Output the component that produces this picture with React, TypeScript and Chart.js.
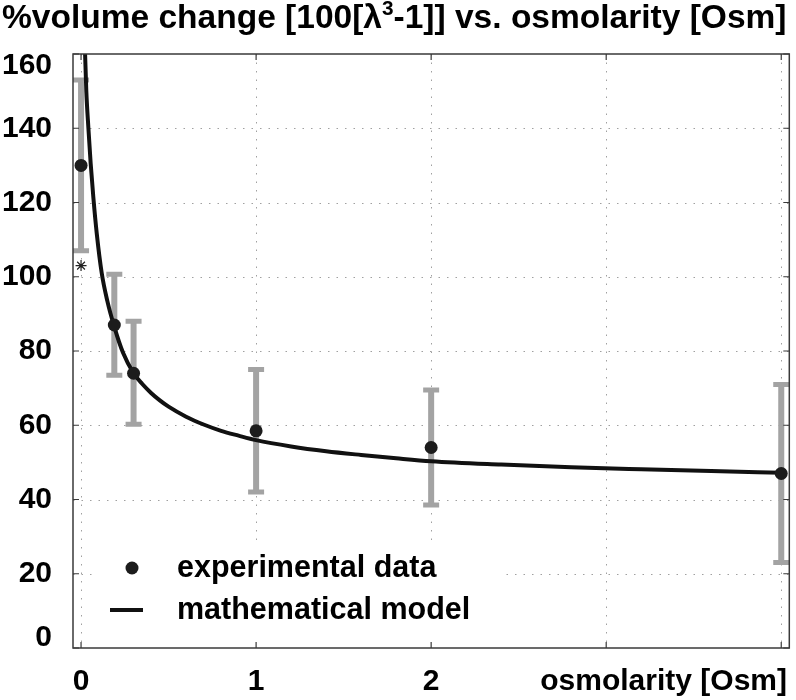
import React, { useEffect, useRef } from "react";
import { Chart, registerables } from "chart.js";

Chart.register(...registerables);

// ---- data ----
const expX = [0, 0.19, 0.3, 1, 2, 4];
const expY = [130, 87, 74, 58.5, 54, 47];
const errLow = [107, 73.5, 60.3, 42, 38.5, 23];
const errHigh = [153, 100.7, 88, 75, 69.5, 71];

const starX = [0];
const starY = [103];

const modelX = [0.021, 0.023, 0.03, 0.042, 0.055, 0.07, 0.09, 0.118, 0.15, 0.19, 0.24, 0.3, 0.35, 0.4, 0.45, 0.5, 0.6, 0.7, 0.8, 0.9, 1.0, 1.2, 1.4, 1.6, 1.8, 2.0, 2.4, 2.8, 3.2, 3.6, 4.0];
const modelY = [164, 160, 150, 140, 130.5, 121.5, 111.5, 101, 93.5, 86.5, 79.5, 74, 71.1, 68.7, 66.7, 65, 62.3, 60.2, 58.5, 57.2, 56, 54.3, 53, 52, 51.1, 50.3, 49.4, 48.7, 48.15, 47.65, 47.2];

const xTickValues = [0, 1, 2, 3, 4];
const xTickLabels = ["0", "1", "2", "", ""];
const yTickValues = [0, 20, 40, 60, 80, 100, 120, 140, 160];
const yTickLabels = ["0", "20", "40", "60", "80", "100", "120", "140", "160"];

const titleParts = ["%volume change [100[λ", "3", "-1]] vs. osmolarity [Osm]"];
const xAxisTitle = "osmolarity [Osm]";
const legendLabels = ["experimental data", "mathematical model"];

const FONT = '"Liberation Sans", Arial, Helvetica, sans-serif';

const decor = {
  id: "decor",
  beforeDatasetsDraw(chart: any) {
    const { ctx, chartArea: a, scales } = chart;
    const x = scales.x, y = scales.y;
    ctx.save();
    // dotted grid
    ctx.strokeStyle = "#a0a0a0";
    ctx.lineWidth = 1;
    ctx.setLineDash([1.5, 7]);
    xTickValues.forEach((v) => {
      const px = Math.round(x.getPixelForValue(v)) + 0.5;
      ctx.beginPath();
      ctx.moveTo(px, a.top);
      ctx.lineTo(px, a.bottom);
      ctx.stroke();
    });
    yTickValues.forEach((v) => {
      if (v <= 0 || v >= 160) return;
      const py = Math.round(y.getPixelForValue(v)) + 0.5;
      ctx.beginPath();
      ctx.moveTo(a.left, py);
      ctx.lineTo(a.right, py);
      ctx.stroke();
    });
    ctx.setLineDash([]);
    // legend background
    ctx.fillStyle = "#ffffff";
    ctx.fillRect(92, 542, 413, 100);
    // error bars
    ctx.beginPath();
    ctx.rect(a.left, a.top, a.right - a.left, a.bottom - a.top);
    ctx.clip();
    ctx.strokeStyle = "#a3a3a3";
    ctx.lineCap = "butt";
    expX.forEach((v, i) => {
      const px = x.getPixelForValue(v);
      const pl = y.getPixelForValue(errLow[i]);
      const ph = y.getPixelForValue(errHigh[i]);
      ctx.lineWidth = 6;
      ctx.beginPath();
      ctx.moveTo(px, pl);
      ctx.lineTo(px, ph);
      ctx.stroke();
      ctx.lineWidth = 5;
      ctx.beginPath();
      ctx.moveTo(px - 8, pl);
      ctx.lineTo(px + 8, pl);
      ctx.moveTo(px - 8, ph);
      ctx.lineTo(px + 8, ph);
      ctx.stroke();
    });
    ctx.restore();
  },
  afterDraw(chart: any) {
    const { ctx, chartArea: a, scales } = chart;
    const x = scales.x, y = scales.y;
    ctx.save();
    // frame
    ctx.strokeStyle = "#3a3a3a";
    ctx.lineWidth = 1.5;
    ctx.strokeRect(a.left, a.top, a.right - a.left, a.bottom - a.top);
    // inward ticks
    ctx.lineWidth = 1.2;
    const tl = 6;
    ctx.beginPath();
    xTickValues.forEach((v) => {
      const px = x.getPixelForValue(v);
      ctx.moveTo(px, a.bottom);
      ctx.lineTo(px, a.bottom - tl);
      ctx.moveTo(px, a.top);
      ctx.lineTo(px, a.top + tl);
    });
    yTickValues.forEach((v) => {
      const py = y.getPixelForValue(v);
      ctx.moveTo(a.left, py);
      ctx.lineTo(a.left + tl, py);
      ctx.moveTo(a.right, py);
      ctx.lineTo(a.right - tl, py);
    });
    ctx.stroke();

    // tick labels
    ctx.fillStyle = "#000";
    ctx.font = `bold 30px ${FONT}`;
    ctx.textBaseline = "middle";
    ctx.textAlign = "right";
    yTickValues.forEach((v, i) => {
      let py = y.getPixelForValue(v);
      py = Math.min(Math.max(py, a.top + 12), a.bottom - 10);
      ctx.fillText(yTickLabels[i], 52, py);
    });
    ctx.textAlign = "center";
    xTickValues.forEach((v, i) => {
      if (!xTickLabels[i]) return;
      ctx.fillText(xTickLabels[i], x.getPixelForValue(v), 682);
    });
    ctx.textAlign = "right";
    ctx.fillText(xAxisTitle, 787, 682);

    // legend
    ctx.textAlign = "left";
    ctx.fillStyle = "#1c1c1c";
    ctx.beginPath();
    ctx.arc(132, 568, 6.5, 0, Math.PI * 2);
    ctx.fill();
    ctx.strokeStyle = "#111";
    ctx.lineWidth = 4;
    ctx.beginPath();
    ctx.moveTo(110, 610);
    ctx.lineTo(143, 610);
    ctx.stroke();
    ctx.fillStyle = "#000";
    ctx.font = `bold 30.5px ${FONT}`;
    ctx.fillText(legendLabels[0], 177, 569);
    ctx.fillText(legendLabels[1], 177, 611);

    // title
    const base = 30;
    const measure = (s: number) => {
      ctx.font = `bold ${s}px ${FONT}`;
      const w0 = ctx.measureText(titleParts[0]).width;
      const w2 = ctx.measureText(titleParts[2]).width;
      ctx.font = `bold ${s * 0.62}px ${FONT}`;
      const w1 = ctx.measureText(titleParts[1]).width;
      return [w0, w1, w2];
    };
    const m = measure(base);
    const size = (base * 785) / (m[0] + m[1] + m[2]);
    const w = measure(size);
    ctx.textBaseline = "alphabetic";
    ctx.textAlign = "left";
    let tx = 2;
    const by = 28;
    ctx.font = `bold ${size}px ${FONT}`;
    ctx.fillText(titleParts[0], tx, by);
    tx += w[0];
    ctx.font = `bold ${size * 0.62}px ${FONT}`;
    ctx.fillText(titleParts[1], tx, by - size * 0.38);
    tx += w[1];
    ctx.font = `bold ${size}px ${FONT}`;
    ctx.fillText(titleParts[2], tx, by);
    ctx.restore();
  },
};

export default function App() {
  const ref = useRef<HTMLCanvasElement | null>(null);
  useEffect(() => {
    document.body.style.margin = "0";
    const canvas = ref.current;
    if (!canvas) return;
    const chart = new Chart(canvas, {
      type: "scatter",
      data: {
        datasets: [
          {
            type: "scatter",
            label: "experimental data",
            data: expX.map((v, i) => ({ x: v, y: expY[i] })),
            pointRadius: 6.5,
            pointBackgroundColor: "#1c1c1c",
            pointBorderWidth: 0,
            order: 0,
          },
          {
            type: "scatter",
            label: "star",
            data: starX.map((v, i) => ({ x: v, y: starY[i] })),
            pointStyle: "star",
            pointRadius: 5.5,
            pointBorderColor: "#222",
            pointBorderWidth: 1.2,
            order: 0,
          },
          {
            type: "line",
            label: "mathematical model",
            data: modelX.map((v, i) => ({ x: v, y: modelY[i] })),
            borderColor: "#111",
            borderWidth: 4,
            pointRadius: 0,
            fill: false,
            cubicInterpolationMode: "monotone",
            clip: 0,
            order: 1,
          } as any,
        ],
      },
      options: {
        responsive: false,
        animation: false,
        devicePixelRatio: 1,
        layout: { padding: { left: 73, right: 5, top: 54, bottom: 52 } },
        scales: {
          x: { type: "linear", min: -0.046, max: 4.046, display: false },
          y: { type: "linear", min: 0, max: 160, display: false },
        },
        plugins: { legend: { display: false }, tooltip: { enabled: false } },
      },
      plugins: [decor],
    });
    return () => chart.destroy();
  }, []);
  return <canvas ref={ref} width={796} height={700} style={{ display: "block" }} />;
}
